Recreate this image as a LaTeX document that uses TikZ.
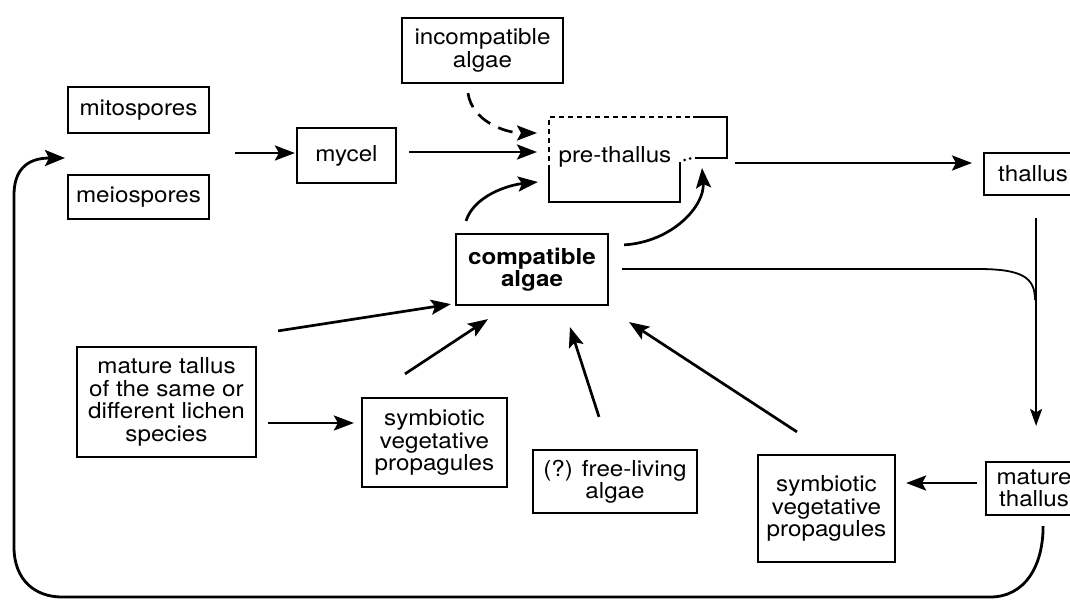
\documentclass[tikz,border=0pt]{standalone}
\usepackage{fontspec}
\setmainfont{TeX Gyre Heros}[FakeStretch=1.1]
\usetikzlibrary{arrows.meta,calc}
\tikzset{
  lbl/.style={font=\fontsize{22}{22.5}\selectfont},
  box/.style={draw, line width=2.2pt, align=center, inner sep=0pt, lbl},
  arr/.style={line width=2.7pt, -{Stealth[length=20pt,width=15pt,inset=4pt]}},
  thinarr/.style={line width=1.8pt, -{Stealth[length=17pt,width=12pt,inset=3.5pt]}},
  thinline/.style={line width=1.8pt},
  outline/.style={line width=2.2pt},
  looparr/.style={line width=2.8pt, -{Stealth[length=20pt,width=16pt,inset=4pt]}},
}
\begin{document}
\begin{tikzpicture}[x=1pt,y=-1pt]
\useasboundingbox (0,0) rectangle (1070,600);
\clip (0,0) rectangle (1070,600);

% boxes
\node[box, minimum width=161pt, minimum height=65pt] (incomp) at (482.5,50.5) {incompatible\\algae};
\node[box, minimum width=141pt, minimum height=46pt] (mito) at (138.5,110) {mitospores};
\node[box, minimum width=141pt, minimum height=44pt] (meio) at (138.5,197) {meiospores};
\node[box, minimum width=99pt, minimum height=55pt] (mycel) at (346.5,155.5) {mycel};
\node[box, minimum width=98pt, minimum height=42pt, anchor=west] (thallus) at (983,174) {thallus};
\node[box, minimum width=96pt, minimum height=53pt, anchor=west] (mature) at (985,488.5) {mature\\thallus};
\node[box, minimum width=152pt, minimum height=71pt, font=\fontsize{22}{22.5}\selectfont\bfseries] (compat) at (532,269.5) {compatible\\algae};
\node[box, minimum width=179pt, minimum height=110pt] (tallus) at (166.5,402) {mature tallus\\of the same or\\different lichen\\species};
\node[box, minimum width=145pt, minimum height=89pt] (propL) at (434.5,442.5) {symbiotic\\vegetative\\propagules};
\node[box, minimum width=164pt, minimum height=63pt] (free) at (615,481.5) {(?) free-living\\algae};
\node[box, minimum width=137pt, minimum height=107pt] (propR) at (826.5,508.5) {symbiotic\\vegetative\\propagules};

% pre-thallus
\node[lbl, inner sep=0pt, anchor=base] (pre) at (615,162) {pre-thallus};
\draw[outline, dash pattern=on 5pt off 4pt] (549,170) -- (549,117) -- (693,117);
\draw[outline] (693,117) -- (727,117) -- (727,158) -- (695,158);
\draw[outline] (680,162) -- (680,202) -- (549,202) -- (549,170);
\fill (684.5,160) circle (1.5pt);
\fill (690,158.5) circle (1.5pt);

% connector ends
\coordinate (preA) at (537,133);
\coordinate (preB) at (537,152);
\coordinate (preC) at (538,182);
\coordinate (preD) at (702,168);
\coordinate (preE) at (735,163);
\coordinate (sporeIn) at (65,158);
\coordinate (sporeOut) at (235,153);
\coordinate (join) at (1035,300);

% arrows
\draw[arr] (sporeOut) -- ($(mycel.west)+(-1,-2.5)$);
\draw[arr] ($(mycel.east)+(12,-3.5)$) -- (preB);
\draw[arr, dash pattern=on 15pt off 9pt] ($(incomp.south)+(-14.5,9)$) .. controls +(4,28) and +(-32,0) .. (preA);
\draw[arr] ($(compat.north)+(-66,-12)$) .. controls +(8,-25) and +(-30,3) .. (preC);
\draw[arr] ($(compat.north east)+(15,12)$) .. controls +(48,-3) and +(3,38) .. (preD);
\draw[arr] (preE) -- ($(thallus.west)+(-11,-11)$);
\draw[thinarr] ($(thallus.south)+(3,22)$) -- ($(mature.north)+(2,-35)$);
\draw[thinline] ($(compat.east)+(13,-0.5)$) -- ++(356,0) .. controls +(45,0) and +(0,-22) .. (join);
\draw[arr] ($(mature.west)+(-8,-5.5)$) -- ($(propR.east)+(10,-25.5)$);
\draw[arr] ($(propR.north)+(-29.5,-22)$) -- ($(compat.south east)+(20,16)$);
\draw[arr] ($(free.north)+(-16,-32)$) -- ($(compat.south)+(38,21)$);
\draw[arr] ($(propL.north)+(-29.5,-23)$) -- ($(compat.south)+(-44,13)$);
\draw[arr] ($(tallus.east)+(11,21)$) -- ($(propL.west)+(-7,-19.5)$);
\draw[arr] ($(tallus.north east)+(21,-15)$) -- ($(compat.south west)+(-4,-2)$);

% return loop
\draw[looparr] ($(mature.south)+(9,10)$) .. controls +(0,40) and +(35,0) .. (990,597)
  -- (62,597) .. controls (35,597) and (14,580) .. (14,547)
  -- (14,195) .. controls (14,172) and (25,158) .. (sporeIn);
\end{tikzpicture}
\end{document}
